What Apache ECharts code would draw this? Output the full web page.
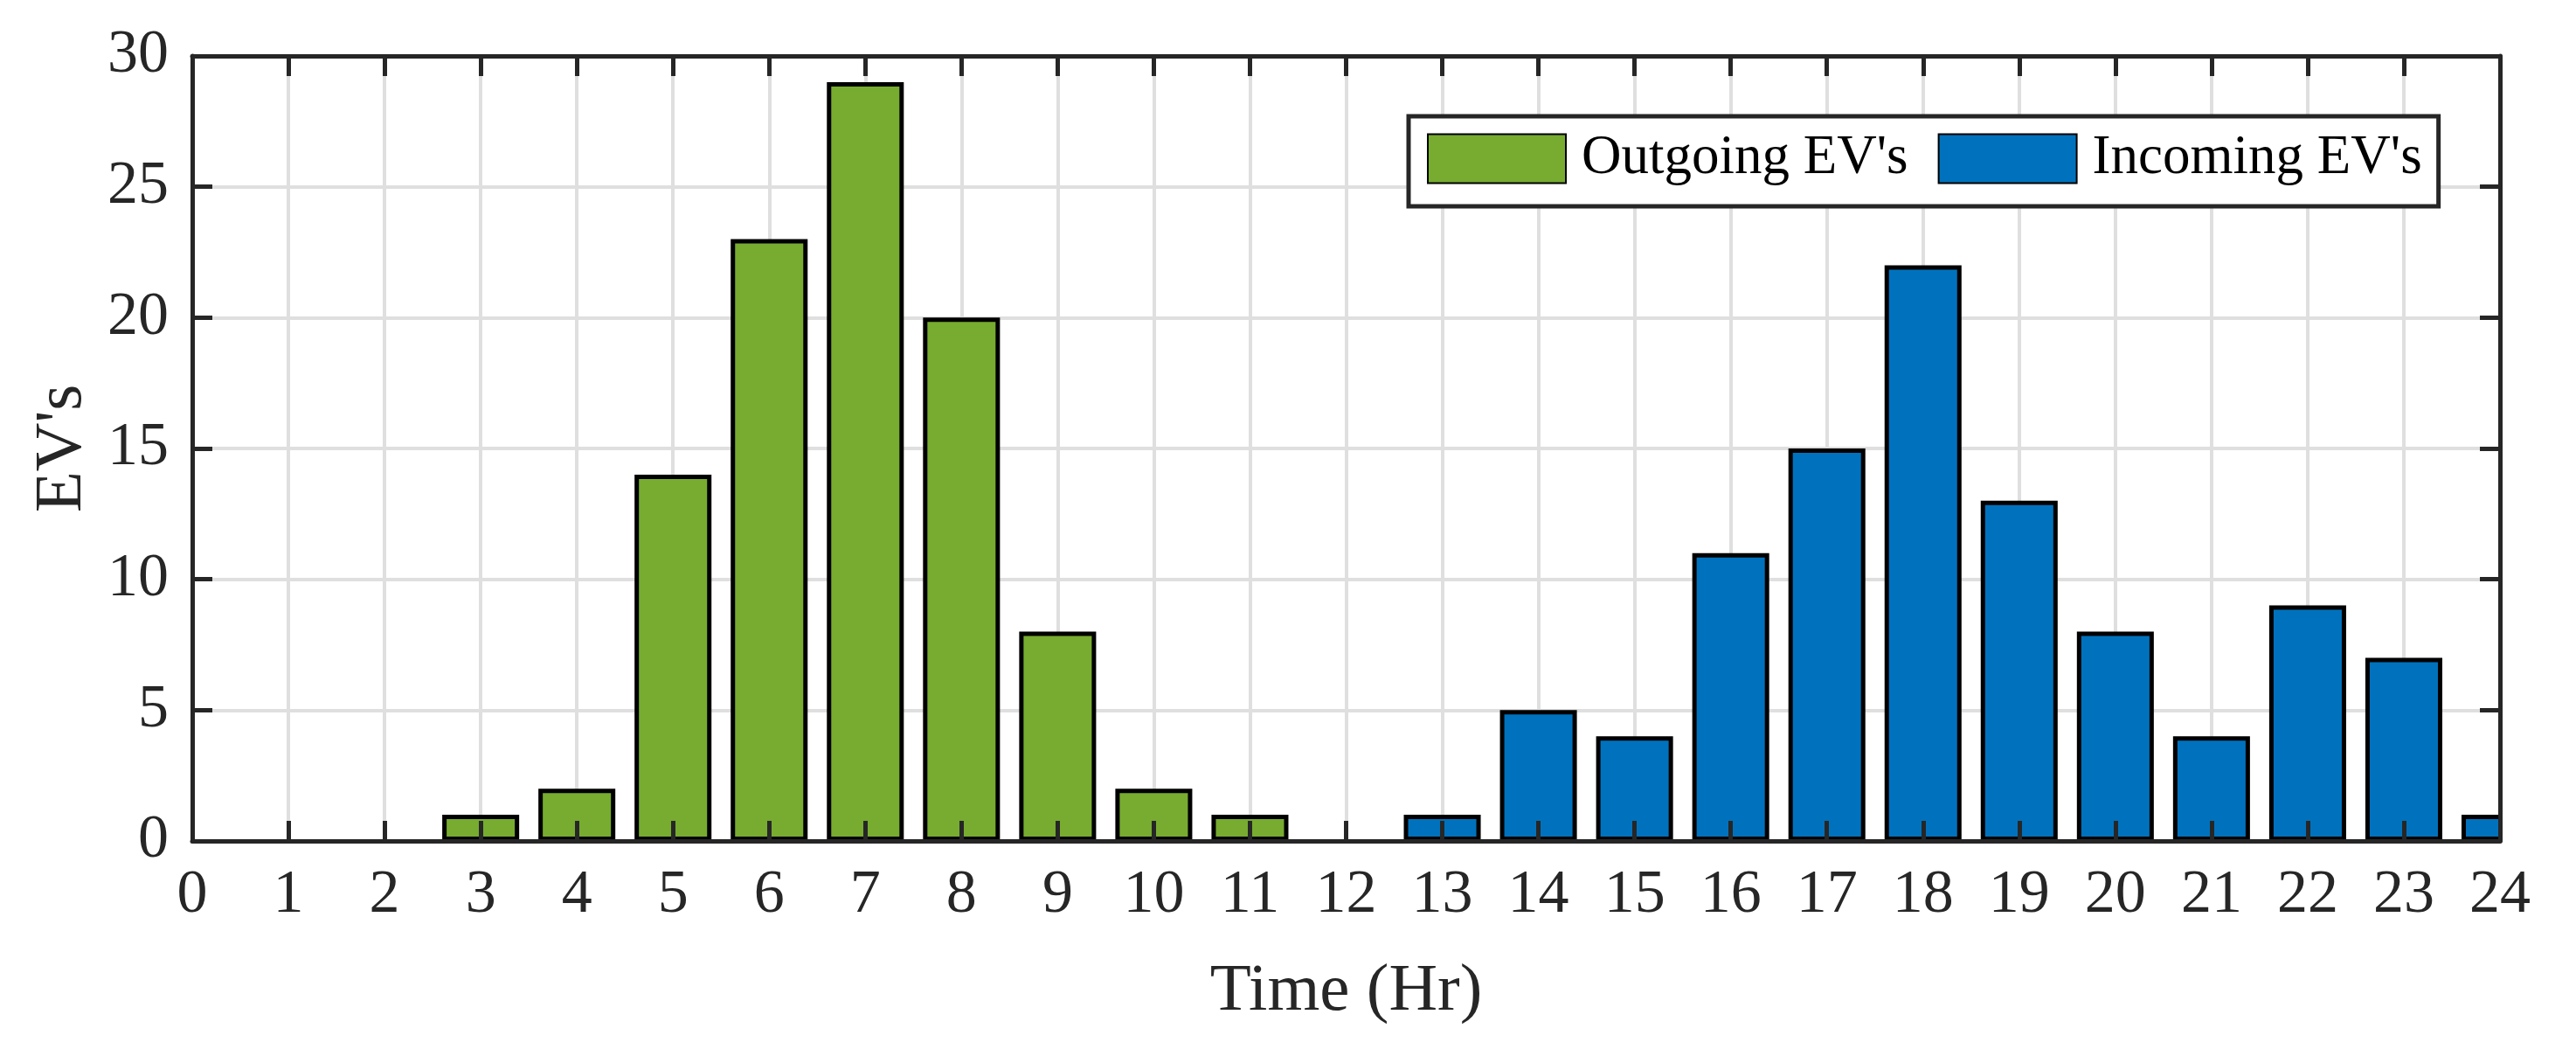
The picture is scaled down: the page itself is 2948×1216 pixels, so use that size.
<!DOCTYPE html>
<html>
<head>
<meta charset="utf-8">
<script src="https://cdn.jsdelivr.net/npm/echarts@6/dist/echarts.min.js"></script>
<style>
html,body{margin:0;padding:0;background:#fff;}
#chart{width:2948px;height:1216px;}
</style>
</head>
<body>
<div id="chart"></div>
<script>
// ---- data ----
const outgoingHours  = [3, 4, 5, 6, 7, 8, 9, 10, 11];
const outgoingValues = [1, 2, 14, 23, 29, 20, 8, 2, 1];
const incomingHours  = [13, 14, 15, 16, 17, 18, 19, 20, 21, 22, 23, 24];
const incomingValues = [1, 5, 4, 11, 15, 22, 13, 8, 4, 9, 7, 1];
const xTickRange = [0, 24, 1];   // min, max, interval (Time, Hr)
const yTickRange = [0, 30, 5];   // min, max, interval (EV's)
const seriesNames = ["Outgoing EV's", "Incoming EV's"];
const xTitle = 'Time (Hr)';
const yTitle = "EV's";

// ---- styles ----
const FONT = 'Liberation Serif';
const AX = '#262626';
const GRID = '#dfdfdf';

const pairs = (xs, ys) => xs.map((x, i) => [x, ys[i]]);

const baseX = {type: 'value', min: xTickRange[0], max: xTickRange[1], interval: xTickRange[2]};
const baseY = {type: 'value', min: yTickRange[0], max: yTickRange[1], interval: yTickRange[2]};

const hidden = {
  axisLine: {show: false}, axisTick: {show: false}, axisLabel: {show: false}
};
const tickStyle = {show: true, inside: true, length: 23, lineStyle: {color: AX, width: 5}};
const lineStyle = {show: true, onZero: false, lineStyle: {color: AX, width: 5}};

const chart = echarts.init(document.getElementById('chart'));
chart.setOption({
  animation: false,
  backgroundColor: '#fff',
  grid: {left: 220, right: 87, top: 64, bottom: 254},
  legend: {
    left: 1612, top: 133,
    orient: 'horizontal',
    selectedMode: false,
    data: seriesNames,
    icon: 'rect',
    itemWidth: 158, itemHeight: 56,
    itemGap: 34,
    padding: [17, 19, 23, 21],
    backgroundColor: '#fff',
    borderColor: AX, borderWidth: 5,
    textStyle: {fontFamily: FONT, fontSize: 63, color: '#000', lineHeight: 58, padding: [0, 0, 0, 13]}
  },
  xAxis: [
    Object.assign({}, baseX, hidden, {position: 'bottom', z: 0,
      splitLine: {show: true, lineStyle: {color: GRID, width: 4}}}),
    Object.assign({}, baseX, {position: 'bottom', z: 10,
      splitLine: {show: false},
      axisLine: lineStyle, axisTick: tickStyle,
      axisLabel: {show: true, margin: 28, fontFamily: FONT, fontSize: 70, color: AX},
      name: xTitle, nameLocation: 'middle', nameGap: 134,
      nameTextStyle: {fontFamily: FONT, fontSize: 77, color: AX}}),
    Object.assign({}, baseX, {position: 'top', z: 10,
      splitLine: {show: false},
      axisLine: lineStyle, axisTick: tickStyle, axisLabel: {show: false}})
  ],
  yAxis: [
    Object.assign({}, baseY, hidden, {position: 'left', z: 0,
      splitLine: {show: true, lineStyle: {color: GRID, width: 4}}}),
    Object.assign({}, baseY, {position: 'left', z: 10,
      splitLine: {show: false},
      axisLine: lineStyle, axisTick: tickStyle,
      axisLabel: {show: true, margin: 27, fontFamily: FONT, fontSize: 70, color: AX},
      name: yTitle, nameLocation: 'middle', nameGap: 110, nameRotate: 90,
      nameTextStyle: {fontFamily: FONT, fontSize: 77, color: AX}}),
    Object.assign({}, baseY, {position: 'right', z: 10,
      splitLine: {show: false},
      axisLine: lineStyle, axisTick: tickStyle, axisLabel: {show: false}})
  ],
  series: [
    {
      name: seriesNames[0], type: 'bar', xAxisIndex: 0, yAxisIndex: 0,
      data: pairs(outgoingHours, outgoingValues),
      barWidth: '80%', barGap: '-100%', clip: true,
      itemStyle: {color: '#77AC30', borderColor: '#000', borderWidth: 5},
      z: 2
    },
    {
      name: seriesNames[1], type: 'bar', xAxisIndex: 0, yAxisIndex: 0,
      data: pairs(incomingHours, incomingValues),
      barWidth: '80%', barGap: '-100%', clip: true,
      itemStyle: {color: '#0072BD', borderColor: '#000', borderWidth: 5},
      z: 2
    }
  ]
});

// Value-axis bars are not clipped at the plot edge by ECharts; mask the
// overflow beyond the axis maximum (as the reference's box clips it).
const xEdge = chart.convertToPixel({xAxisIndex: 0}, xTickRange[1]);
chart.setOption({
  graphic: [{
    type: 'rect', z: 5,
    shape: {x: xEdge + 2, y: 0, width: chart.getWidth() - xEdge, height: chart.getHeight()},
    style: {fill: '#fff'}
  }]
});
</script>
</body>
</html>
